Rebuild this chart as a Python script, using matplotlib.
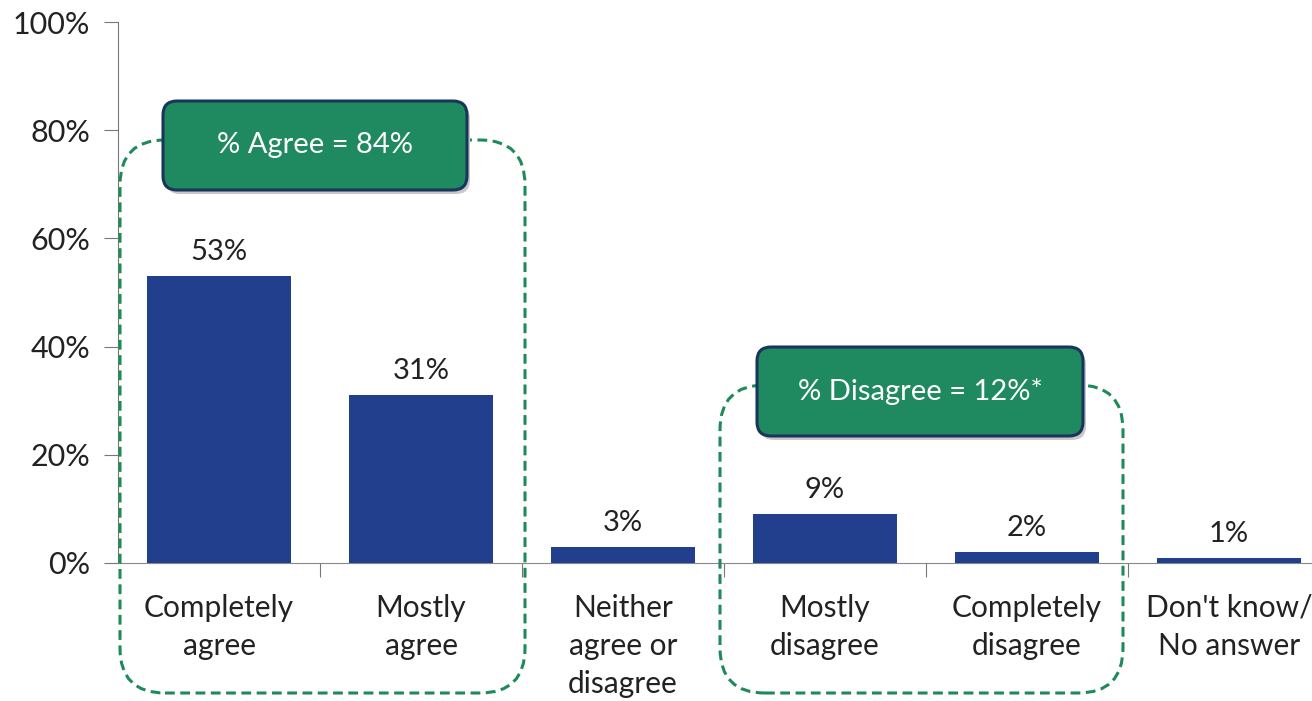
import matplotlib
matplotlib.use("Agg")
import matplotlib.pyplot as plt
from matplotlib.patches import FancyBboxPatch
from matplotlib.ticker import FixedLocator

categories = ["Completely\nagree", "Mostly\nagree", "Neither\nagree or\ndisagree",
              "Mostly\ndisagree", "Completely\ndisagree", "Don't know/\nNo answer"]
values = [53, 31, 3, 9, 2, 1]
value_labels = ["53%", "31%", "3%", "9%", "2%", "1%"]
y_ticks = [0, 20, 40, 60, 80, 100]
y_tick_labels = ["0%", "20%", "40%", "60%", "80%", "100%"]
agree_label = "% Agree = 84%"
disagree_label = "% Disagree = 12%*"

plt.rcParams['font.family'] = ['Lato', 'DejaVu Sans']

W, H = 1312, 701
fig = plt.figure(figsize=(W / 100, H / 100), dpi=100)
fig.patch.set_facecolor("white")
ax = fig.add_axes([118 / W, (H - 563) / H, (W - 118) / W, 541 / H])

bar_color = "#213f8c"
text_color = "#222222"
x = list(range(len(categories)))
ax.bar(x, values, width=0.71, color=bar_color, zorder=3)
for xi, v, lab in zip(x, values, value_labels):
    ax.text(xi, v + 2.0, lab, ha="center", va="bottom", fontsize=21, color=text_color, zorder=4)

ax.set_xlim(-0.5, -0.5 + (W - 118) / 202)
ax.set_ylim(0, 100)
ax.set_yticks(y_ticks)
ax.set_yticklabels(y_tick_labels, fontsize=22, color=text_color)
ax.set_xticks(x)
ax.set_xticklabels(categories, fontsize=21.5, color=text_color, linespacing=1.45)
ax.tick_params(axis="x", length=0, pad=22)
ax.tick_params(axis="y", length=10, width=0.8, color="#777777", pad=10)
ax.xaxis.set_minor_locator(FixedLocator([0.5, 1.5, 2.5, 3.5, 4.5]))
ax.tick_params(axis="x", which="minor", length=10, width=0.8, color="#777777", direction="out")
for s in ["top", "right"]:
    ax.spines[s].set_visible(False)
ax.spines["left"].set_color("#777777")
ax.spines["left"].set_linewidth(0.8)
ax.spines["bottom"].set_color("#888888")
ax.spines["bottom"].set_linewidth(0.8)

# annotation boxes in inch coordinates (pixel / 100, origin bottom-left)
tr = fig.dpi_scale_trans
green_dash = "#1e8a5a"

def px_box(x0, y0, x1, y1):
    return x0 / 100, (H - y1) / 100, (x1 - x0) / 100, (y1 - y0) / 100

def dashed_group(x0, y0, x1, y1):
    bx, by, bw, bh = px_box(x0, y0, x1, y1)
    p = FancyBboxPatch((bx, by), bw, bh, boxstyle="round,pad=0,rounding_size=0.45",
                       transform=tr, fill=False, edgecolor=green_dash, linewidth=2.2,
                       linestyle=(0, (3.2, 1.8)), zorder=5, clip_on=False)
    fig.add_artist(p)

def label_box(x0, y0, x1, y1, text):
    bx, by, bw, bh = px_box(x0, y0, x1, y1)
    sh = FancyBboxPatch((bx + 0.03, by - 0.04), bw, bh, boxstyle="round,pad=0,rounding_size=0.14",
                        transform=tr, facecolor="#c8c8c8", edgecolor="none", zorder=6, clip_on=False)
    fig.add_artist(sh)
    p = FancyBboxPatch((bx, by), bw, bh, boxstyle="round,pad=0,rounding_size=0.14",
                       transform=tr, facecolor="#1f8a5f", edgecolor="#1a355c", linewidth=2.2,
                       zorder=7, clip_on=False)
    fig.add_artist(p)
    fig.text((bx + bw / 2) * 100 / W, (by + bh / 2) * 100 / H, text, ha="center", va="center",
             fontsize=21, color="white", zorder=8)

dashed_group(120, 140, 525, 693)
dashed_group(720, 385, 1123, 693)
label_box(163, 101, 467, 190, agree_label)
label_box(757, 347, 1083, 436, disagree_label)

fig.savefig("out.png", dpi=100, facecolor="white")
